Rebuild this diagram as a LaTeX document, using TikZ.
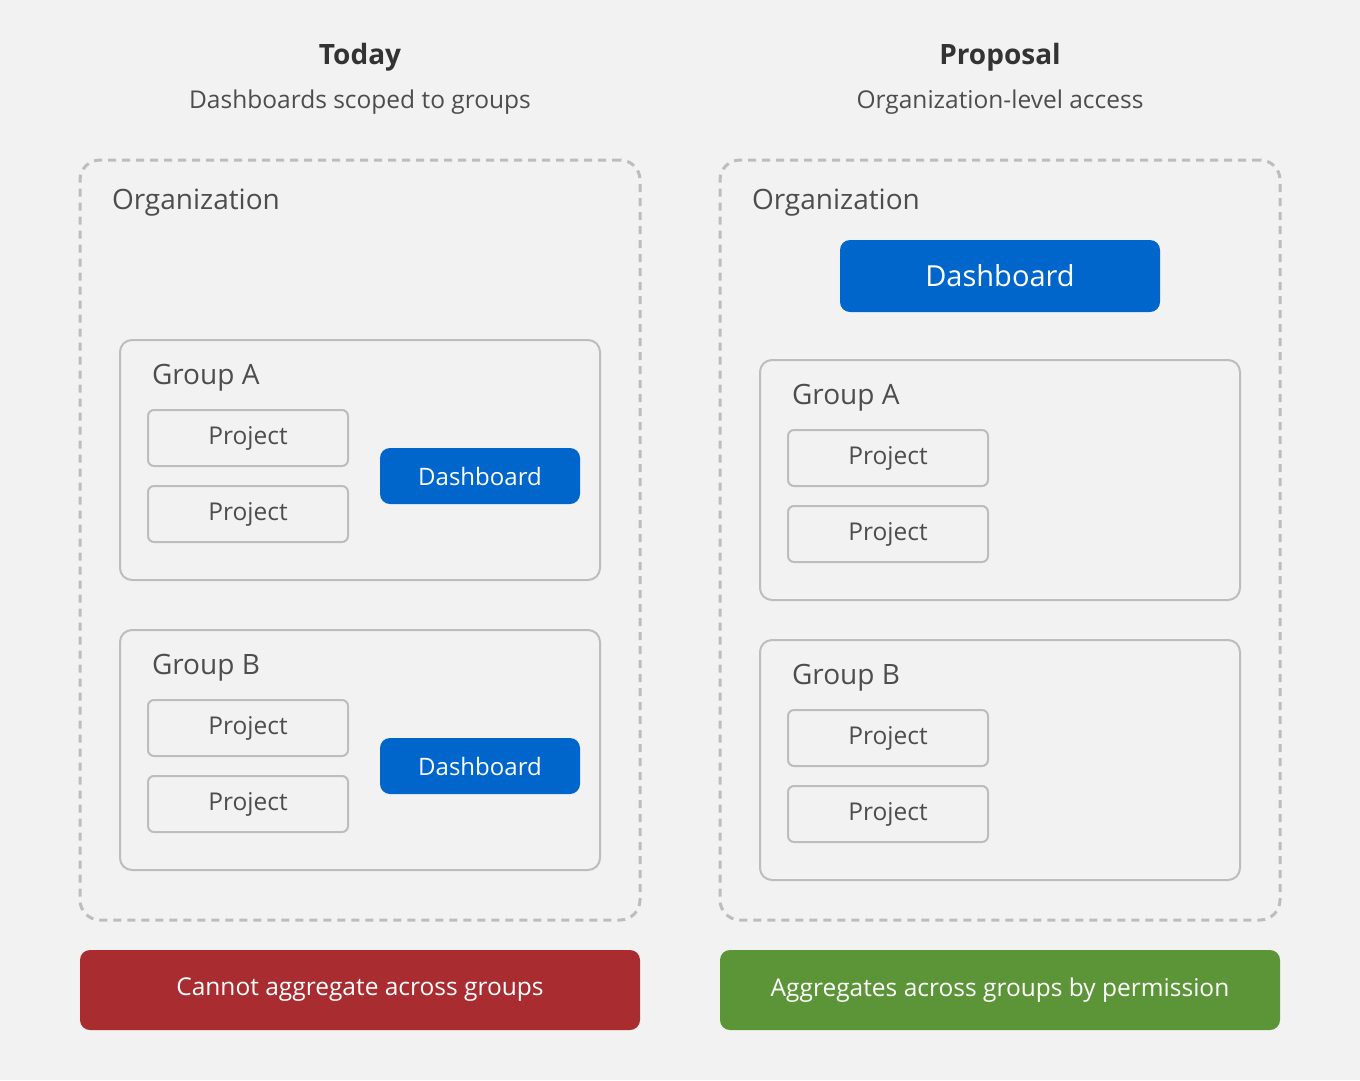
\documentclass[tikz,border=0pt]{standalone}
\usepackage{fontspec}
\setmainfont{Open Sans}
\usetikzlibrary{math}

\definecolor{bgcol}{HTML}{F2F2F2}
\definecolor{linecol}{HTML}{BDBDBD}
\definecolor{txtcol}{HTML}{4D4D4D}
\definecolor{headcol}{HTML}{333333}
\definecolor{dashcol}{HTML}{0066CC}
\definecolor{badcol}{HTML}{A92D30}
\definecolor{goodcol}{HTML}{5B9537}

\begin{document}
\begin{tikzpicture}[x=1pt,y=-1pt,
    every node/.style={inner sep=0pt, outer sep=0pt},
    head/.style={font=\fontsize{28}{32}\selectfont\bfseries, text=headcol},
    subhead/.style={font=\fontsize{24.5}{28}\selectfont, text=txtcol},
    orgbox/.style={draw=linecol, line width=3pt, dash pattern=on 8pt off 6pt,
      rounded corners=20pt, minimum width=560pt, minimum height=760pt},
    grpbox/.style={draw=linecol, line width=2pt, rounded corners=12pt,
      minimum width=480pt, minimum height=240pt},
    boxlabel/.style={anchor=west, font=\fontsize{28}{32}\selectfont, text=txtcol},
    projbox/.style={draw=linecol, line width=2pt, rounded corners=6pt,
      minimum width=200pt, minimum height=56pt,
      font=\fontsize{24.5}{28}\selectfont, text=txtcol},
    dashbox/.style={fill=dashcol, rounded corners=10pt,
      minimum width=200pt, minimum height=56pt,
      font=\fontsize{24}{28}\selectfont, text=white},
    verdict/.style={rounded corners=10pt, minimum width=560pt, minimum height=80pt,
      font=\fontsize{24.5}{28}\selectfont, text=white}]
  \tikzmath{
    % --------------------------
    % the columns of the picture
    % --------------------------
    \colL=360; % centre of "Today"
    \colR=1000; % centre of "Proposal"
  }
  % background
  \fill[bgcol] (0,0) rectangle (1360,1080);
  % ----------------
  % the two headings
  % ----------------
  \node[head] (todayhead) at (\colL,57) {Today};
  \node[subhead] (todaysub) at (\colL,102) {Dashboards scoped to groups};
  \node[head] (prophead) at (\colR,57) {Proposal};
  \node[subhead] (propsub) at (\colR,102) {Organization-level access};
  % -----------------------
  % left side: today
  % -----------------------
  \node[orgbox] (orgL) at (\colL,540) {};
  \node[boxlabel] (orgLlabel) at (112,203) {Organization};
  \foreach \g/\y in {A/340,B/630}{
    \node[grpbox] (grpL\g) at (\colL,\y+120) {};
    \node[boxlabel] (grpL\g label) at (152,\y+38) {Group \g};
    \node[projbox] (prjL\g1) at (248,\y+98) {Project};
    \node[projbox] (prjL\g2) at (248,\y+174) {Project};
    \node[dashbox] (dashL\g) at (480,\y+136) {Dashboard};
  }
  \node[verdict, fill=badcol] (verdictL) at (\colL,990) {Cannot aggregate across groups};
  % -----------------------
  % right side: proposal
  % -----------------------
  \node[orgbox] (orgR) at (\colR,540) {};
  \node[boxlabel] (orgRlabel) at (752,203) {Organization};
  \node[dashbox, minimum width=320pt, minimum height=72pt,
        font=\fontsize{29}{34}\selectfont] (dashR) at (\colR,276) {Dashboard};
  \foreach \g/\y in {A/360,B/640}{
    \node[grpbox] (grpR\g) at (\colR,\y+120) {};
    \node[boxlabel] (grpR\g label) at (792,\y+38) {Group \g};
    \node[projbox] (prjR\g1) at (888,\y+98) {Project};
    \node[projbox] (prjR\g2) at (888,\y+174) {Project};
  }
  \node[verdict, fill=goodcol] (verdictR) at (\colR,990) {Aggregates across groups by permission};
\end{tikzpicture}
\end{document}
